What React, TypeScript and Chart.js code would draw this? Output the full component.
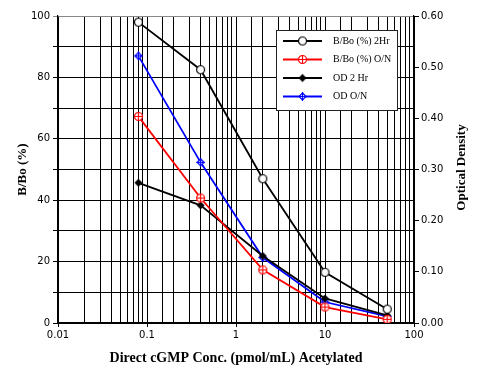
import React, { useEffect, useRef } from 'react';
import { Chart, registerables } from 'chart.js';

Chart.register(...registerables);

const concentrations = [0.08, 0.4, 2, 10, 50];
const bboTwoHour = [98, 82.5, 47, 16.5, 4.5];
const bboOvernight = [67.3, 40.7, 17.3, 5.2, 1.2];
const odTwoHour = [0.274, 0.23, 0.131, 0.048, 0.015];
const odOvernight = [0.522, 0.314, 0.128, 0.041, 0.013];
const seriesLabels = ['B/Bo (%) 2Hr', 'B/Bo (%) O/N', 'OD 2 Hr', 'OD O/N'];
const seriesColors = ['#000000', '#ff0000', '#000000', '#0000ff'];
const xMajorTicks = [0.01, 0.1, 1, 10, 100];
const rightAxisTitle = 'Optical Density';

function makeMarker(kind: string, color: string): HTMLCanvasElement {
  const c = document.createElement('canvas');
  const s = 11;
  c.width = s;
  c.height = s;
  const g = c.getContext('2d') as CanvasRenderingContext2D;
  const m = s / 2;
  g.lineWidth = 1.2;
  g.strokeStyle = color;
  g.fillStyle = '#ffffff';
  if (kind === 'circlePlus') {
    g.beginPath();
    g.arc(m, m, 4, 0, Math.PI * 2);
    g.fill();
    g.stroke();
    g.beginPath();
    g.moveTo(m - 4, m);
    g.lineTo(m + 4, m);
    g.moveTo(m, m - 4);
    g.lineTo(m, m + 4);
    g.stroke();
  } else if (kind === 'diamondPlus') {
    g.beginPath();
    g.moveTo(m, m - 3.5);
    g.lineTo(m + 3.5, m);
    g.lineTo(m, m + 3.5);
    g.lineTo(m - 3.5, m);
    g.closePath();
    g.fill();
    g.stroke();
    g.beginPath();
    g.moveTo(m - 4.5, m);
    g.lineTo(m + 4.5, m);
    g.moveTo(m, m - 4.5);
    g.lineTo(m, m + 4.5);
    g.stroke();
  } else if (kind === 'openCircle') {
    g.beginPath();
    g.arc(m, m, 4, 0, Math.PI * 2);
    g.fill();
    g.stroke();
  } else if (kind === 'diamond') {
    g.fillStyle = color;
    g.beginPath();
    g.moveTo(m, m - 4);
    g.lineTo(m + 4, m);
    g.lineTo(m, m + 4);
    g.lineTo(m - 4, m);
    g.closePath();
    g.fill();
  }
  return c;
}

const isMajor = (v: number) => {
  const l = Math.log10(v);
  return Math.abs(l - Math.round(l)) < 1e-6;
};

export default function App() {
  const ref = useRef<HTMLCanvasElement | null>(null);

  useEffect(() => {
    const canvas = ref.current;
    if (!canvas) return;
    const markers = [
      makeMarker('openCircle', '#000000'),
      makeMarker('circlePlus', '#ff0000'),
      makeMarker('diamond', '#000000'),
      makeMarker('diamondPlus', '#0000ff'),
    ];
    const seriesValues = [bboTwoHour, bboOvernight, odTwoHour, odOvernight];
    const axisIds = ['y', 'y', 'y1', 'y1'];
    const orders = [1, 2, 3, 4];

    const legendPlugin = {
      id: 'boxLegend',
      afterDraw(chart: any) {
        const ctx = chart.ctx as CanvasRenderingContext2D;
        ctx.save();
        ctx.fillStyle = '#ffffff';
        ctx.fillRect(276.5, 30.5, 121, 80);
        ctx.strokeStyle = '#222222';
        ctx.lineWidth = 1;
        ctx.strokeRect(276.5, 30.5, 121, 80);
        const rowsY = [41, 59.5, 78, 96.5];
        ctx.font = '10px "Liberation Serif", "Times New Roman", serif';
        ctx.textBaseline = 'middle';
        ctx.textAlign = 'left';
        seriesLabels.forEach((label, i) => {
          const y = rowsY[i];
          ctx.strokeStyle = seriesColors[i];
          ctx.lineWidth = 1.8;
          ctx.beginPath();
          ctx.moveTo(283, y);
          ctx.lineTo(322, y);
          ctx.stroke();
          const mk = markers[i];
          ctx.drawImage(mk, 302.5 - mk.width / 2, y - mk.height / 2);
          ctx.fillStyle = '#000000';
          ctx.fillText(label, 333, y);
        });
        // right axis title, reading bottom to top
        const area = chart.chartArea;
        ctx.translate(462, (area.top + area.bottom) / 2 - 2);
        ctx.rotate(-Math.PI / 2);
        ctx.textAlign = 'center';
        ctx.textBaseline = 'middle';
        ctx.font = 'bold 13px "Liberation Serif", "Times New Roman", serif';
        ctx.fillStyle = '#000000';
        ctx.fillText(rightAxisTitle, 0, 0);
        ctx.restore();
      },
    };

    const chart = new Chart(canvas, {
      type: 'line',
      data: {
        datasets: seriesLabels.map((label, i) => ({
          label,
          data: concentrations.map((x, j) => ({ x, y: seriesValues[i][j] })),
          yAxisID: axisIds[i],
          borderColor: seriesColors[i],
          backgroundColor: seriesColors[i],
          borderWidth: 1.8,
          pointStyle: markers[i] as any,
          pointRadius: 5,
          tension: 0,
          fill: false,
          order: orders[i],
        })),
      },
      plugins: [legendPlugin],
      options: {
        responsive: false,
        animation: false,
        devicePixelRatio: 1,
        layout: { padding: { top: 16, left: 0, right: 0, bottom: 0 } },
        plugins: { legend: { display: false }, tooltip: { enabled: false } },
        scales: {
          x: {
            type: 'logarithmic',
            min: 0.01,
            max: 100,
            afterFit: (s: any) => {
              s.height = 50;
            },
            afterBuildTicks: (s: any) => {
              s.ticks = s.ticks.filter((t: any) => t.value >= 0.01 && t.value <= 100);
            },
            border: { display: true, color: '#000000', width: 1.2 },
            grid: {
              color: '#000000',
              lineWidth: 1,
              tickLength: 4,
              tickColor: (c: any) => (c.tick && isMajor(c.tick.value) ? '#000000' : 'rgba(0,0,0,0)'),
            },
            ticks: {
              autoSkip: false,
              maxRotation: 0,
              padding: 2,
              color: '#000000',
              font: { family: '"DejaVu Sans", sans-serif', size: 10 },
              callback: (v: any) => {
                const n = Number(v);
                if (!isMajor(n)) return '';
                const m = xMajorTicks.find((t) => Math.abs(t - n) / t < 1e-6);
                return m === undefined ? '' : String(m);
              },
            },
            title: {
              display: true,
              text: 'Direct cGMP Conc. (pmol/mL) Acetylated',
              color: '#000000',
              font: { family: '"Liberation Serif", "Times New Roman", serif', size: 14, weight: 'bold' },
              padding: { top: 0, bottom: 6 },
            },
          },
          y: {
            type: 'linear',
            position: 'left',
            min: 0,
            max: 100,
            afterFit: (s: any) => {
              s.width = 58;
            },
            border: { display: true, color: '#000000', width: 1.2 },
            grid: {
              color: (c: any) => (c.tick && c.tick.value === 100 ? '#888888' : '#000000'),
              lineWidth: 1,
              tickLength: 5,
            },
            ticks: {
              stepSize: 10,
              padding: 3,
              color: '#000000',
              font: { family: '"DejaVu Sans", sans-serif', size: 10 },
              callback: (v: any) => (Number(v) % 20 === 0 ? String(v) : ''),
            },
            title: {
              display: true,
              text: 'B/Bo (%)',
              color: '#000000',
              font: { family: '"Liberation Serif", "Times New Roman", serif', size: 13, weight: 'bold' },
              padding: { top: 15, bottom: 0 },
            },
          },
          y1: {
            type: 'linear',
            position: 'right',
            min: 0,
            max: 0.6,
            afterFit: (s: any) => {
              s.width = 67;
            },
            border: { display: true, color: '#000000', width: 1.2 },
            grid: {
              drawOnChartArea: false,
              color: '#000000',
              tickLength: 5,
            },
            ticks: {
              stepSize: 0.1,
              padding: 2,
              color: '#000000',
              font: { family: '"DejaVu Sans", sans-serif', size: 10 },
              callback: (v: any) => Number(v).toFixed(2),
            },
            title: { display: false },
          },
        },
      } as any,
    });
    return () => chart.destroy();
  }, []);

  return (
    <div style={{ position: 'fixed', left: 0, top: 0, width: 481, height: 373, background: '#ffffff' }}>
      <canvas ref={ref} width={481} height={373} style={{ width: 481, height: 373, display: 'block' }} />
    </div>
  );
}
